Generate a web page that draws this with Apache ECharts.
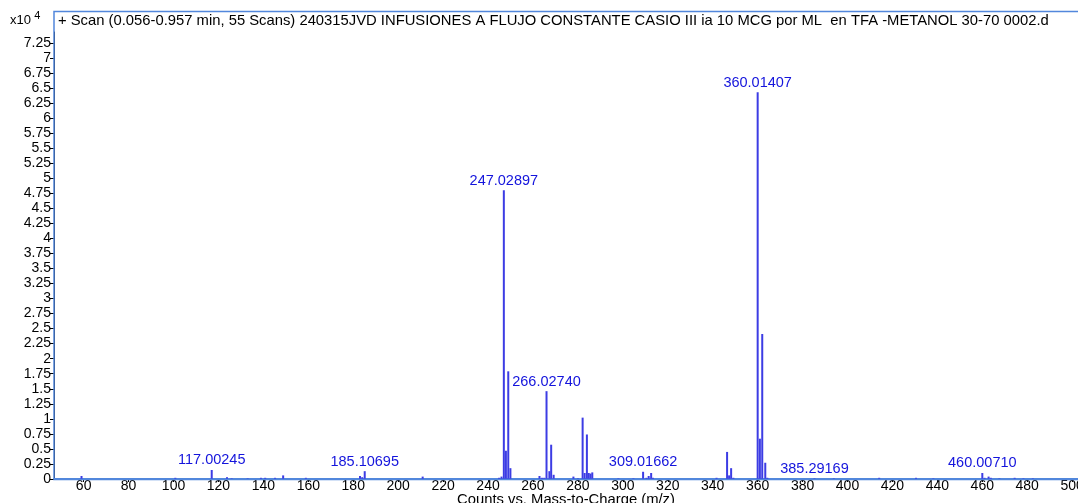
<!DOCTYPE html>
<html>
<head>
<meta charset="utf-8">
<script src="https://cdn.jsdelivr.net/npm/echarts@6/dist/echarts.min.js"></script>
<style>
  html, body { margin: 0; padding: 0; background: #ffffff; }
  #chart { width: 1078px; height: 503px; }
</style>
</head>
<body>
<div id="chart"></div>
<script>
// Scan header shown at the top of the spectrum frame
const scanTitle = '+ Scan (0.056-0.957 min, 55 Scans) 240315JVD INFUSIONES A FLUJO CONSTANTE CASIO III ia 10 MCG por ML  en TFA -METANOL 30-70 0002.d';
const xAxisTitle = 'Counts vs. Mass-to-Charge (m/z)';

// Centroid peaks: m/z and abundance (counts x10^4)
const mzValues = [
  59.05, 100.8, 117.00245, 123.8, 125.9, 133.0, 138.9, 140.8, 145.2, 148.8,
  158.9, 183.0, 184.0, 185.10695, 210.9, 244.9, 246.0, 247.02897, 247.95, 249.0,
  249.95, 262.9, 264.0, 265.0, 266.02740, 267.3, 268.1, 269.2, 278.0, 280.0,
  282.1, 283.0, 284.0, 284.8, 285.6, 286.4, 298.0, 304.7, 309.01662, 310.5,
  311.5, 312.6, 313.4, 341.7, 346.4, 347.3, 348.2, 349.2, 360.01407, 361.0,
  362.05, 363.4, 364.3, 385.29169, 393.9, 414.1, 430.5, 438.2, 460.00710, 461.0,
  462.8, 463.8, 467.6, 474.4, 478.3, 482.5
];
const counts = [
  0.05, 0.02, 0.15, 0.03, 0.01, 0.01, 0.02, 0.02, 0.02, 0.06,
  0.02, 0.05, 0.03, 0.13, 0.04, 0.02, 0.04, 4.80, 0.47, 1.79,
  0.18, 0.05, 0.02, 0.02, 1.46, 0.13, 0.57, 0.07, 0.04, 0.01,
  1.02, 0.10, 0.74, 0.10, 0.09, 0.11, 0.01, 0.01, 0.12, 0.02,
  0.05, 0.10, 0.02, 0.02, 0.45, 0.06, 0.18, 0.02, 6.43, 0.67,
  2.41, 0.27, 0.02, 0.01, 0.01, 0.02, 0.02, 0.01, 0.10, 0.02,
  0.04, 0.02, 0.01, 0.02, 0.01, 0.01
];

// Peaks annotated with their m/z
const labeledMz = [117.00245, 185.10695, 247.02897, 266.02740, 309.01662, 360.01407, 385.29169, 460.00710];

// Axis tick labels
const xTicks = [60, 80, 100, 120, 140, 160, 180, 200, 220, 240, 260, 280, 300, 320, 340, 360, 380, 400, 420, 440, 460, 480, 500];
const yTicks = [0, 0.25, 0.5, 0.75, 1, 1.25, 1.5, 1.75, 2, 2.25, 2.5, 2.75, 3, 3.25, 3.5, 3.75, 4, 4.25, 4.5, 4.75, 5, 5.25, 5.5, 5.75, 6, 6.25, 6.5, 6.75, 7, 7.25];

const FONT = '"Liberation Sans", Arial, sans-serif';
const FRAME_BLUE = '#5287dc';
const PEAK_BLUE = '#3c3ce4';
const LABEL_BLUE = '#1414dc';

const peakData = mzValues.map((mz, i) => [mz, counts[i]]);
const labelData = peakData.filter(d => labeledMz.includes(d[0]));

const chart = echarts.init(document.getElementById('chart'), null, { renderer: 'canvas' });

chart.setOption({
  animation: false,
  backgroundColor: '#ffffff',
  textStyle: { fontFamily: FONT },
  grid: { left: 54, right: 0, top: 32, bottom: 24, containLabel: false, outerBoundsMode: 'none' },
  xAxis: {
    type: 'value',
    min: 46.8,
    max: 502.6,
    name: xAxisTitle,
    nameLocation: 'middle',
    nameGap: 13,
    nameMoveOverlap: false,
    nameTextStyle: { fontFamily: FONT, fontSize: 14.8, color: '#000000' },
    axisLine: { show: true, lineStyle: { color: FRAME_BLUE, width: 2 } },
    axisTick: { show: true, customValues: xTicks, length: 3, lineStyle: { color: '#000000' } },
    axisLabel: { customValues: xTicks, fontFamily: FONT, fontSize: 14, color: '#000000', margin: 0 },
    splitLine: { show: false }
  },
  yAxis: {
    type: 'value',
    min: 0,
    max: 7.43,
    axisLine: { show: true, lineStyle: { color: '#000000', width: 1 } },
    axisTick: { show: true, customValues: yTicks, length: 4, lineStyle: { color: '#000000' } },
    axisLabel: { customValues: yTicks, fontFamily: FONT, fontSize: 14, color: '#000000', margin: 3,
                 formatter: v => String(v) },
    splitLine: { show: false }
  },
  graphic: [
    {
      type: 'rect',
      silent: true,
      z: 10,
      shape: { x: 54, y: 11.5, width: 1100, height: 468 },
      style: { fill: null, stroke: FRAME_BLUE, lineWidth: 1.5 }
    },
    {
      type: 'text',
      left: 58,
      top: 13,
      style: { text: scanTitle, font: '14.8px ' + FONT, fill: '#000000' }
    },
    {
      type: 'text',
      left: 10,
      top: 10,
      style: {
        text: '{b|x10} {s|4}',
        rich: {
          b: { font: '13px ' + FONT, fill: '#000000', padding: [6, 0, 0, 0] },
          s: { font: '11px ' + FONT, fill: '#000000', padding: [0, 0, 4, 0] }
        }
      }
    }
  ],
  series: [
    {
      // vertical sticks from the baseline to each peak's abundance
      type: 'custom',
      clip: true,
      data: peakData,
      renderItem: (params, api) => {
        const top = api.coord([api.value(0), api.value(1)]);
        const base = api.coord([api.value(0), 0]);
        return {
          type: 'rect',
          shape: { x: top[0] - 1, y: top[1], width: 2, height: base[1] - top[1] },
          style: { fill: PEAK_BLUE }
        };
      }
    },
    {
      // m/z annotations above the labelled peaks
      type: 'scatter',
      symbolSize: 0,
      itemStyle: { opacity: 1 },
      data: labelData,
      label: {
        show: true,
        position: 'top',
        distance: 2,
        fontFamily: FONT,
        fontSize: 14.5,
        color: LABEL_BLUE,
        opacity: 1,
        formatter: p => p.value[0].toFixed(5)
      }
    }
  ]
});
</script>
</body>
</html>
